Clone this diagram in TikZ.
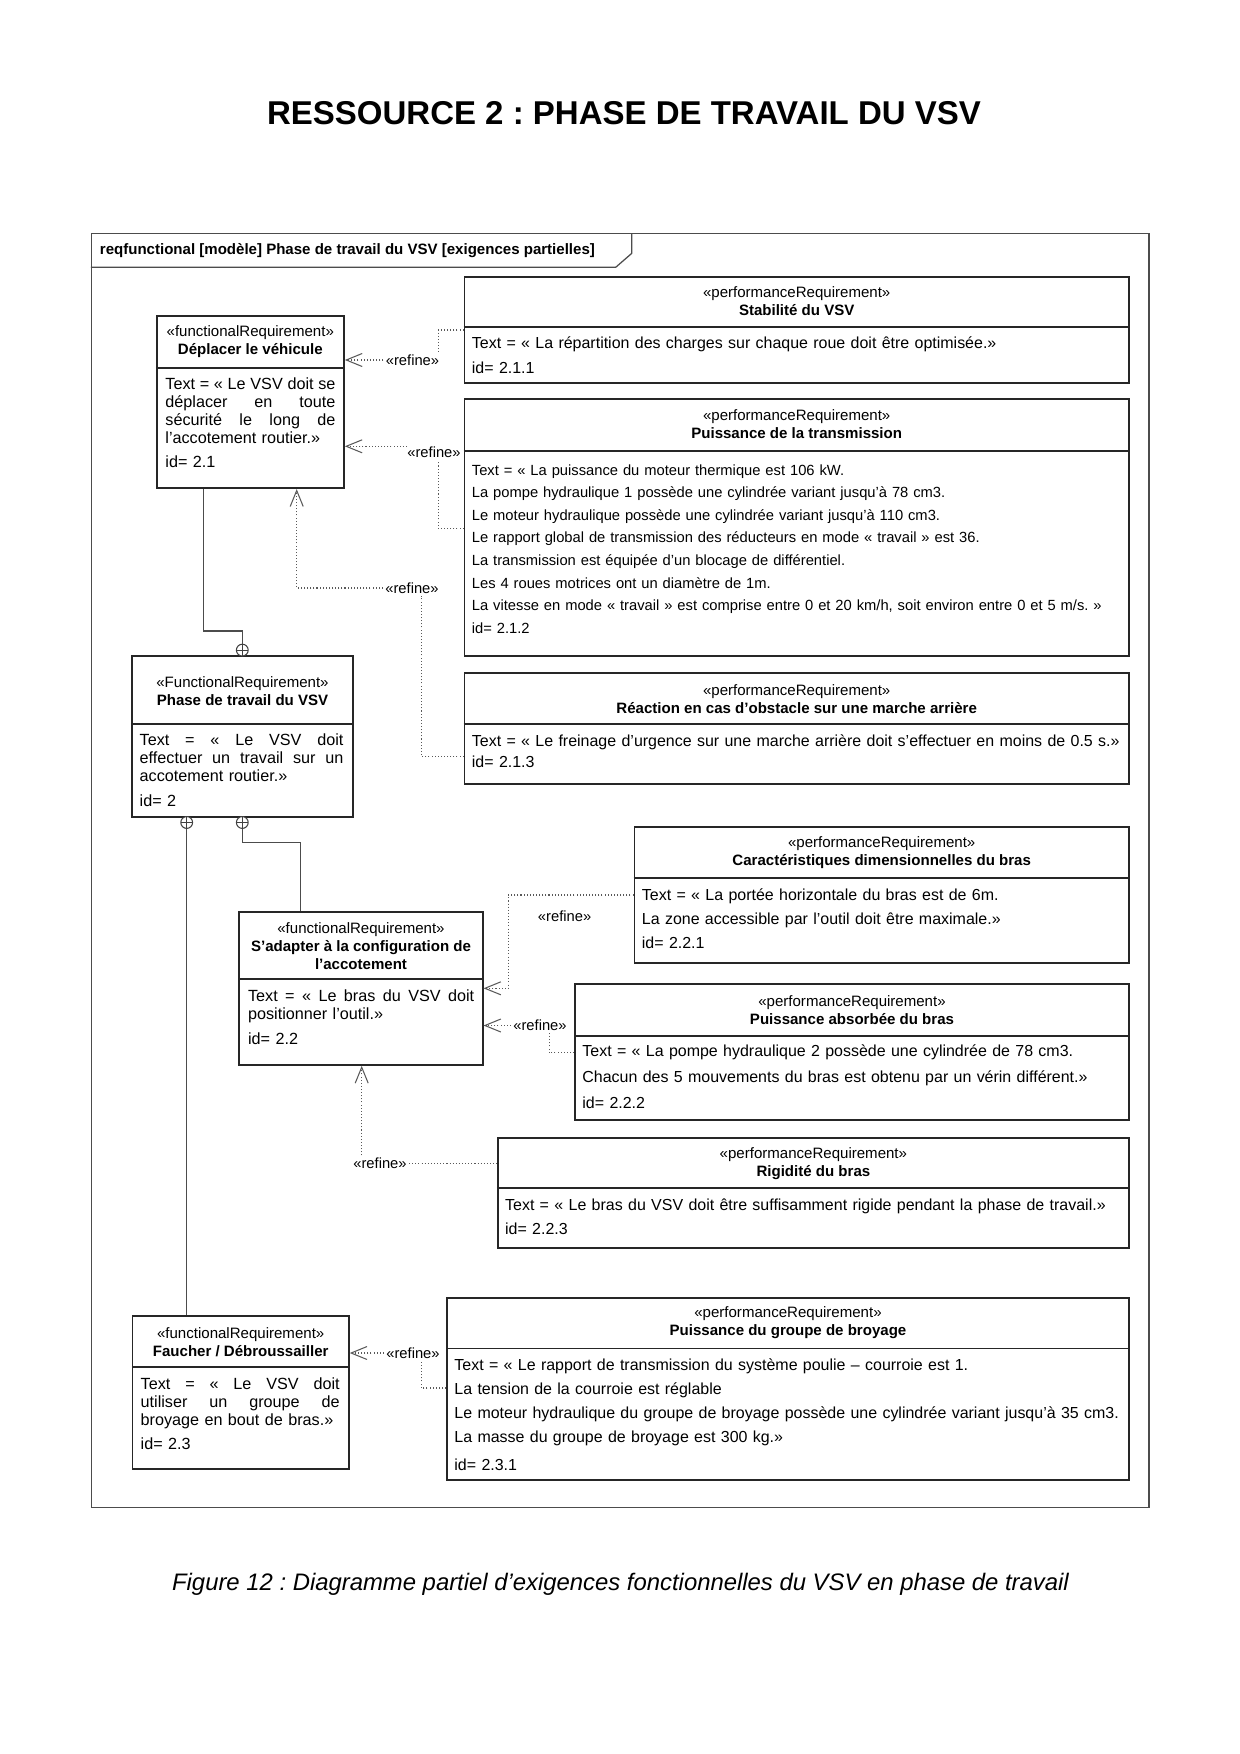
\documentclass[tikz,border=0pt]{standalone}
\usepackage{fontspec}
\setmainfont{Liberation Sans}
\usetikzlibrary{positioning,arrows.meta,fit}
\frenchspacing
\newcommand\jline[2]{\makebox[#1][s]{\spaceskip=0pt\relax#2}}

\begin{document}
\begin{tikzpicture}[x=0.16935mm, y=-0.16935mm,
			reqbox/.style={draw=black!85, line width=0.8pt, inner sep=0pt},
			divline/.style={draw=black!85, line width=0.8pt},
			headtxt/.style={align=center, inner sep=0pt, font=\fontsize{7.25}{8.6}\selectfont},
			bodytxt/.style={anchor=base west, inner sep=0pt, align=left, text width=125mm, font=\fontsize{7.7}{#1}\selectfont},
			reflbl/.style={inner sep=1pt, font=\fontsize{7.1}{8}\selectfont},
			refine/.style={draw=black!65, line width=0.5pt, densely dotted},
			refarrow/.style={-{Straight Barb[length=2.7mm,width=2.2mm]}},
			ctn/.style={circle, draw=black!75, line width=0.5pt, fill=white, minimum size=2mm, inner sep=0pt,
				path picture={\draw[black!75, line width=0.5pt] (path picture bounding box.north) -- (path picture bounding box.south)
					(path picture bounding box.west) -- (path picture bounding box.east);}},
			ctnline/.style={draw=black!70, line width=0.6pt}]
			
			\useasboundingbox (0,0) rectangle (1240,1754);
			\fill[white] (0,0) rectangle (1240,1754);
			
			% title and caption
			\node[anchor=base, font=\fontsize{15.9}{18}\selectfont\bfseries] (ttl) at (624,124) {RESSOURCE 2 : PHASE DE TRAVAIL DU VSV};
			\node[anchor=base, font=\fontsize{11.5}{14}\selectfont\itshape] (cap) at (620.5,1590) {Figure 12 : Diagramme partiel d’exigences fonctionnelles du VSV en phase de travail};
			
			% frame
			\node[draw=black!70, line width=0.6pt, inner sep=0pt, fit={(91.4,233.3) (1149,1507.3)}] (frm) {};
			\draw[black!70, line width=0.6pt] (frm.west |- 0,267.3) -- (615.7,267.3) -- (631.8,253.3) -- (631.8,233.3);
			\node[anchor=base west, inner sep=0pt, font=\fontsize{7.25}{8.6}\selectfont\bfseries] (frmt) at (99.5,254) {reqfunctional [modèle] Phase de travail du VSV [exigences partielles]};
			
			% functional requirements
			\node[reqbox, fit={(156.7,315.7) (344,488.3)}] (depl) {};
			\draw[divline] (depl.west |- 0,367.7) -- (depl.east |- 0,367.7);
			\node[headtxt] (deplh) at (250.3,341.5) {«functionalRequirement»\\\textbf{Déplacer le véhicule}};
			\node[bodytxt=8.7pt, font=\fontsize{7.8}{8.7}\selectfont] (deplb) at (165,389.3) {\jline{28.8mm}{Text = « Le VSV doit se}\\\jline{28.8mm}{déplacer en toute}\\\jline{28.8mm}{sécurité le long de}\\l’accotement routier.»\\[3pt]id= 2.1};
			
			\node[reqbox, fit={(131.7,656) (353.3,816.7)}] (phase) {};
			\draw[divline] (phase.west |- 0,724) -- (phase.east |- 0,724);
			\node[headtxt] (phaseh) at (242.5,691.5) {«FunctionalRequirement»\\\textbf{Phase de travail du VSV}};
			\node[bodytxt=8.7pt, font=\fontsize{7.8}{8.7}\selectfont] (phaseb) at (139.3,745.7) {\jline{34.5mm}{Text = « Le VSV doit}\\\jline{34.5mm}{effectuer un travail sur un}\\accotement routier.»\\[3.3pt]id= 2};
			
			\node[reqbox, fit={(239.3,911.7) (482.7,1065)}] (adapt) {};
			\draw[divline] (adapt.west |- 0,979.3) -- (adapt.east |- 0,979.3);
			\node[headtxt] (adapth) at (361,945.8) {«functionalRequirement»\\\textbf{S’adapter à la configuration de}\\\textbf{l’accotement}};
			\node[bodytxt=8.8pt, font=\fontsize{7.8}{8.8}\selectfont] (adaptb) at (247.7,1001.7) {\jline{38.3mm}{Text = « Le bras du VSV doit}\\positionner l’outil.»\\[2.8pt]id= 2.2};
			
			\node[reqbox, fit={(132.6,1316) (348.9,1469.3)}] (fauch) {};
			\draw[divline] (fauch.west |- 0,1367.3) -- (fauch.east |- 0,1367.3);
			\node[headtxt] (fauchh) at (240.7,1342) {«functionalRequirement»\\\textbf{Faucher / Débroussailler}};
			\node[bodytxt=8.8pt, font=\fontsize{7.8}{8.8}\selectfont] (fauchb) at (140.3,1389) {\jline{33.7mm}{Text = « Le VSV doit}\\\jline{33.7mm}{utiliser un groupe de}\\broyage en bout de bras.»\\[2.6pt]id= 2.3};
			
			% performance requirements
			\node[reqbox, fit={(464.5,276.7) (1129,383.3)}] (stab) {};
			\draw[divline] (stab.west |- 0,327.3) -- (stab.east |- 0,327.3);
			\node[headtxt] (stabh) at (796.7,301) {«performanceRequirement»\\\textbf{Stabilité du VSV}};
			\node[bodytxt=12pt] (stabb) at (471.5,348.3) {Text = « La répartition des charges sur chaque roue doit être optimisée.»\\id= 2.1.1};
			
			\node[reqbox, fit={(464.5,399.3) (1129,655.7)}] (trans) {};
			\draw[divline] (trans.west |- 0,450.7) -- (trans.east |- 0,450.7);
			\node[headtxt] (transh) at (796.7,424.5) {«performanceRequirement»\\\textbf{Puissance de la transmission}};
			\node[bodytxt=10.9pt, font=\fontsize{7.1}{10.9}\selectfont] (transb) at (471.5,475) {Text = « La puissance du moteur thermique est 106 kW.\\La pompe hydraulique 1 possède une cylindrée variant jusqu’à 78 cm3.\\Le moteur hydraulique possède une cylindrée variant jusqu’à 110 cm3.\\Le rapport global de transmission des réducteurs en mode « travail » est 36.\\La transmission est équipée d’un blocage de différentiel.\\Les 4 roues motrices ont un diamètre de 1m.\\La vitesse en mode « travail » est comprise entre 0 et 20 km/h, soit environ entre 0 et 5 m/s. »\\id= 2.1.2};
			
			\node[reqbox, fit={(464.5,673.3) (1129,784)}] (react) {};
			\draw[divline] (react.west |- 0,724) -- (react.east |- 0,724);
			\node[headtxt] (reacth) at (796.7,699.5) {«performanceRequirement»\\\textbf{Réaction en cas d’obstacle sur une marche arrière}};
			\node[bodytxt=10.4pt] (reactb) at (471.5,746) {Text = « Le freinage d’urgence sur une marche arrière doit s’effectuer en moins de 0.5 s.»\\id= 2.1.3};
			
			\node[reqbox, fit={(634.4,826.7) (1129,962.7)}] (carac) {};
			\draw[divline] (carac.west |- 0,877.7) -- (carac.east |- 0,877.7);
			\node[headtxt] (carach) at (881.7,852.5) {«performanceRequirement»\\\textbf{Caractéristiques dimensionnelles du bras}};
			\node[bodytxt=11.76pt] (caracb) at (641.5,900) {Text = « La portée horizontale du bras est de 6m.\\La zone accessible par l’outil doit être maximale.»\\id= 2.2.1};
			
			\node[reqbox, fit={(575,984.3) (1129,1120)}] (puabs) {};
			\draw[divline] (puabs.west |- 0,1035.7) -- (puabs.east |- 0,1035.7);
			\node[headtxt] (puabsh) at (852,1010) {«performanceRequirement»\\\textbf{Puissance absorbée du bras}};
			\node[bodytxt=12.5pt] (puabsb) at (582,1056.7) {Text = « La pompe hydraulique 2 possède une cylindrée de 78 cm3.\\Chacun des 5 mouvements du bras est obtenu par un vérin différent.»\\id= 2.2.2};
			
			\node[reqbox, fit={(497.7,1137.7) (1129,1247.7)}] (rigid) {};
			\draw[divline] (rigid.west |- 0,1188.3) -- (rigid.east |- 0,1188.3);
			\node[headtxt] (rigidh) at (813.4,1163.3) {«performanceRequirement»\\\textbf{Rigidité du bras}};
			\node[bodytxt=12pt] (rigidb) at (504.7,1210) {Text = « Le bras du VSV doit être suffisamment rigide pendant la phase de travail.»\\id= 2.2.3};
			
			\node[reqbox, fit={(447,1297.7) (1129,1480.3)}] (broy) {};
			\draw[divline] (broy.west |- 0,1348.5) -- (broy.east |- 0,1348.5);
			\node[headtxt] (broyh) at (788,1323) {«performanceRequirement»\\\textbf{Puissance du groupe de broyage}};
			\node[bodytxt=11.7pt] (broyb) at (454,1370) {Text = « Le rapport de transmission du système poulie – courroie est 1.\\La tension de la courroie est réglable\\Le moteur hydraulique du groupe de broyage possède une cylindrée variant jusqu’à 35 cm3.\\La masse du groupe de broyage est 300 kg.»\\[1.5pt]id= 2.3.1};
			
			% containment
			\node[ctn] (o1) at (242.3,650.1) {};
			\node[ctn] (o2) at (242.3,822.5) {};
			\node[ctn] (o3) at (186.7,822.5) {};
			\coordinate (k1) at (203.3,631);
			\coordinate (k2) at (300.7,842.3);
			\draw[ctnline] (o1.north) |- (k1) -- (k1 |- depl.south);
			\draw[ctnline] (o2.south) |- (k2) -- (k2 |- adapt.north);
			\draw[ctnline] (o3.south) -- (o3.south |- fauch.north);
			
			% refine
			\node[reflbl] (r1) at (412.5,360) {«refine»};
			\coordinate (k3) at (438.3,330);
			\draw[refine] (k3 -| stab.west) -- (k3) -- (k3 |- r1.north);
			\draw[refine, refarrow] (r1.west) -- (r1.west -| depl.east);
			
			\node[reflbl] (r2) at (434,452.5) {«refine»};
			\coordinate (k4) at (438.3,528.3);
			\coordinate (k5) at (407,446.3);
			\draw[refine] (k4 -| trans.west) -- (k4) -- (k4 |- r2.south);
			\draw[refine, refarrow] (k5) -- (k5 -| depl.east);
			
			\node[reflbl] (r3) at (412,588) {«refine»};
			\coordinate (k6) at (421.7,756.7);
			\coordinate (k7) at (296.7,600);
			\draw[refine] (k6 -| react.west) -- (k6) -- (k6 |- r3.south);
			\draw[refine, refarrow] (r3.west) -| (k7 |- depl.south);
			
			\node[reflbl] (r4) at (564.6,916) {«refine»};
			\coordinate (k8) at (508.3,895);
			\coordinate (k9) at (508.3,988.3);
			\draw[refine, refarrow] (k8 -| carac.west) -- (k8) -- (k9) -- (k9 -| adapt.east);
			
			\node[reflbl] (r5) at (540,1025.5) {«refine»};
			\coordinate (k10) at (549.3,1052.7);
			\draw[refine] (k10 -| puabs.west) -- (k10) -- (k10 |- r5.south);
			\draw[refine, refarrow] (r5.west) -- (r5.west -| adapt.east);
			
			\node[reflbl] (r6) at (380,1163.3) {«refine»};
			\coordinate (k11) at (361.7,1150);
			\draw[refine] (r6.east) -- (r6.east -| rigid.west);
			\draw[refine, refarrow] (k11 |- r6.north) -- (k11 |- adapt.south);
			
			\node[reflbl] (r7) at (413,1353) {«refine»};
			\coordinate (k12) at (421.6,1388);
			\draw[refine] (k12 -| broy.west) -- (k12) -- (k12 |- r7.south);
			\draw[refine, refarrow] (r7.west) -- (r7.west -| fauch.east);
			
		\end{tikzpicture}
\end{document}
